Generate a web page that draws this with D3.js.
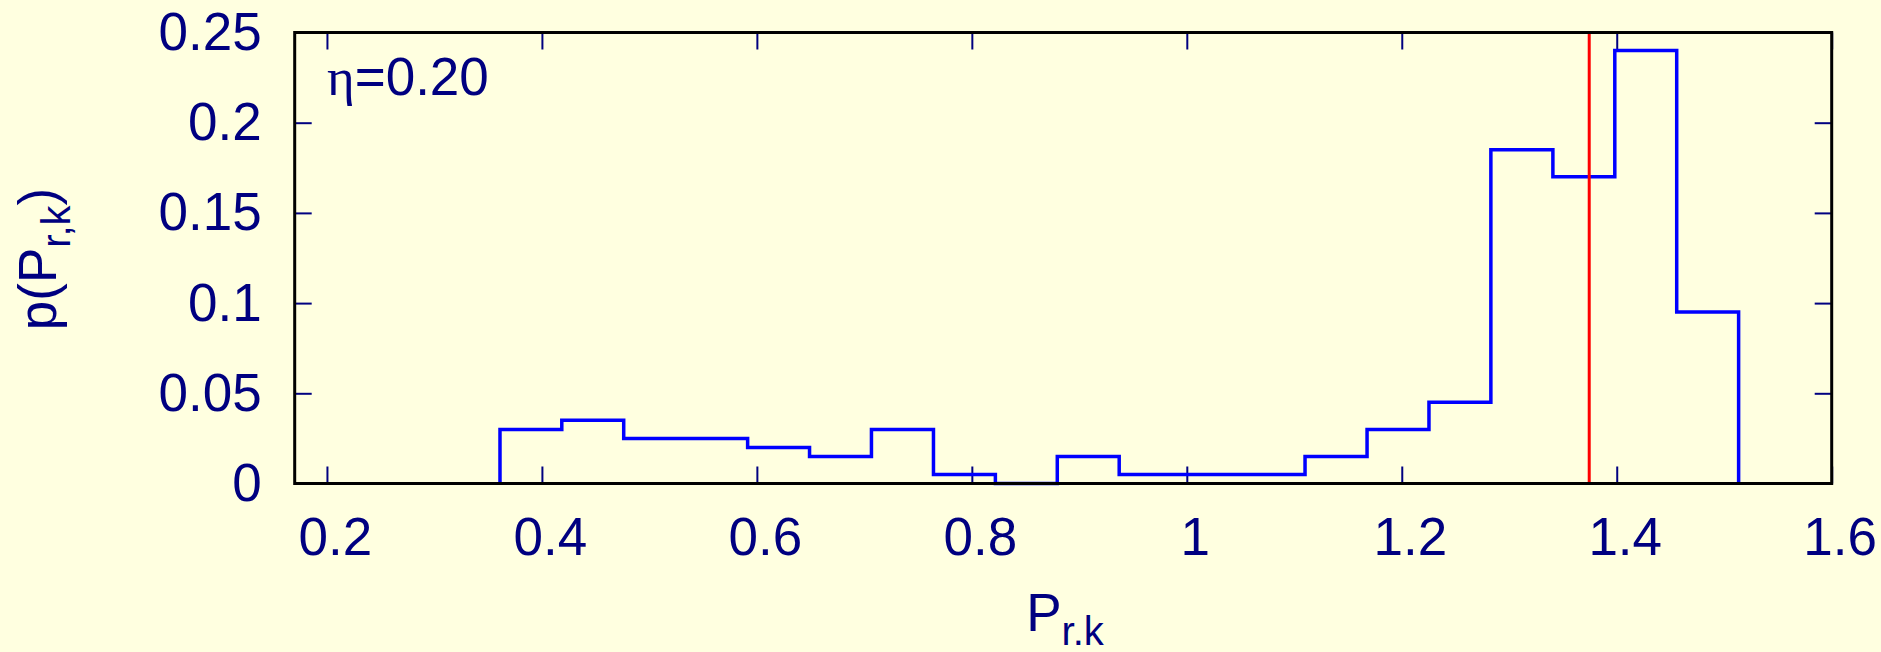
<!DOCTYPE html>
<html>
<head>
<meta charset="utf-8">
<script src="https://cdn.jsdelivr.net/npm/d3@7"></script>
<style>
  body { margin: 0; background: #ffffe0; }
  svg { display: block; font-family: 'Liberation Sans', Arial, sans-serif; }
</style>
</head>
<body>
<svg id="chart" width="1881" height="652"></svg>
<script>
// histogram bin edges (P_r,k) and heights
const binEdges = [0.361, 0.4185, 0.4761, 0.5338, 0.5914, 0.649, 0.7066, 0.7643, 0.8219, 0.8795,
  0.9371, 0.9948, 1.0524, 1.11, 1.1677, 1.2253, 1.2829, 1.3406, 1.3982, 1.4558, 1.5134];
const binValues = [0.03, 0.035, 0.025, 0.025, 0.02, 0.015, 0.03, 0.005, 0, 0.015,
  0.005, 0.005, 0.005, 0.015, 0.03, 0.045, 0.185, 0.17, 0.24, 0.095];
const markerX = 1.3744;
const xTicks = [0.2, 0.4, 0.6, 0.8, 1, 1.2, 1.4, 1.6];
const yTicks = [0, 0.05, 0.1, 0.15, 0.2, 0.25];
const xDomain = [0.17, 1.6];
const yDomain = [0, 0.25];
const panelLabel = '=0.20';

const margin = { top: 32.5, right: 49.3, bottom: 168.5, left: 294.7 };
const w = 1881;
const h = 652;
const ink = '#000080';

const svg = d3.select('#chart');

const xScale = d3.scaleLinear()
  .domain(xDomain)
  .range([margin.left, w - margin.right]);
const yScale = d3.scaleLinear()
  .domain(yDomain)
  .range([h - margin.bottom, margin.top]);

const fmt = d3.format('~g');

function styleAxis(g) {
  g.select('.domain').remove();
  g.selectAll('.tick line').attr('stroke', ink).attr('stroke-width', 2);
  g.selectAll('.tick text').attr('fill', ink).style('font-size', '53px');
}

// bottom and left axes with labels, ticks pointing inward
svg.append('g')
  .attr('class', 'x-axis')
  .attr('transform', `translate(0, ${h - margin.bottom})`)
  .call(d3.axisBottom(xScale).tickValues(xTicks).tickSize(-17).tickPadding(34).tickFormat(fmt))
  .call(styleAxis)
  .selectAll('.tick text').attr('dx', 8);

svg.append('g')
  .attr('class', 'y-axis')
  .attr('transform', `translate(${margin.left}, 0)`)
  .call(d3.axisLeft(yScale).tickValues(yTicks).tickSize(-17).tickPadding(33).tickFormat(fmt))
  .call(styleAxis);

// mirrored ticks on top and right
svg.append('g')
  .attr('transform', `translate(0, ${margin.top})`)
  .call(d3.axisTop(xScale).tickValues(xTicks).tickSize(-17).tickFormat(''))
  .call(styleAxis);

svg.append('g')
  .attr('transform', `translate(${w - margin.right}, 0)`)
  .call(d3.axisRight(yScale).tickValues(yTicks).tickSize(-17).tickFormat(''))
  .call(styleAxis);

// step outline of the histogram
const pts = [[binEdges[0], 0]];
binValues.forEach((v, i) => pts.push([binEdges[i], v]));
pts.push([binEdges[binEdges.length - 1], 0]);

const step = d3.line()
  .x(d => xScale(d[0]))
  .y(d => yScale(d[1]))
  .curve(d3.curveStepAfter);

svg.append('path')
  .attr('d', step(pts))
  .attr('fill', 'none')
  .attr('stroke', '#0000ff')
  .attr('stroke-width', 3.5);

// vertical marker
svg.append('line')
  .attr('x1', xScale(markerX))
  .attr('x2', xScale(markerX))
  .attr('y1', yScale(yDomain[0]))
  .attr('y2', yScale(yDomain[1]))
  .attr('stroke', '#ff0000')
  .attr('stroke-width', 3);

// frame
svg.append('rect')
  .attr('x', margin.left)
  .attr('y', margin.top)
  .attr('width', w - margin.left - margin.right)
  .attr('height', h - margin.top - margin.bottom)
  .attr('fill', 'none')
  .attr('stroke', '#000')
  .attr('stroke-width', 3);

// panel label
const eta = svg.append('text')
  .attr('x', 327)
  .attr('y', 95)
  .attr('fill', ink)
  .style('font-size', '53px');
eta.append('tspan').style('font-family', "'Liberation Serif', serif").text('η');
eta.append('tspan').text(panelLabel);

// x label
const xl = svg.append('text')
  .attr('x', 1065)
  .attr('y', 631)
  .attr('text-anchor', 'middle')
  .attr('fill', ink)
  .style('font-size', '53px');
xl.append('tspan').text('P');
xl.append('tspan').attr('dy', 14).style('font-size', '40px').text('r.k');

// y label
const yl = svg.append('text')
  .attr('transform', 'translate(56, 259) rotate(-90)')
  .attr('text-anchor', 'middle')
  .attr('fill', ink)
  .style('font-size', '53px');
yl.append('tspan').text('p(P');
yl.append('tspan').attr('dy', 14).style('font-size', '40px').text('r,k');
yl.append('tspan').attr('dy', -14).text(')');
</script>
</body>
</html>
